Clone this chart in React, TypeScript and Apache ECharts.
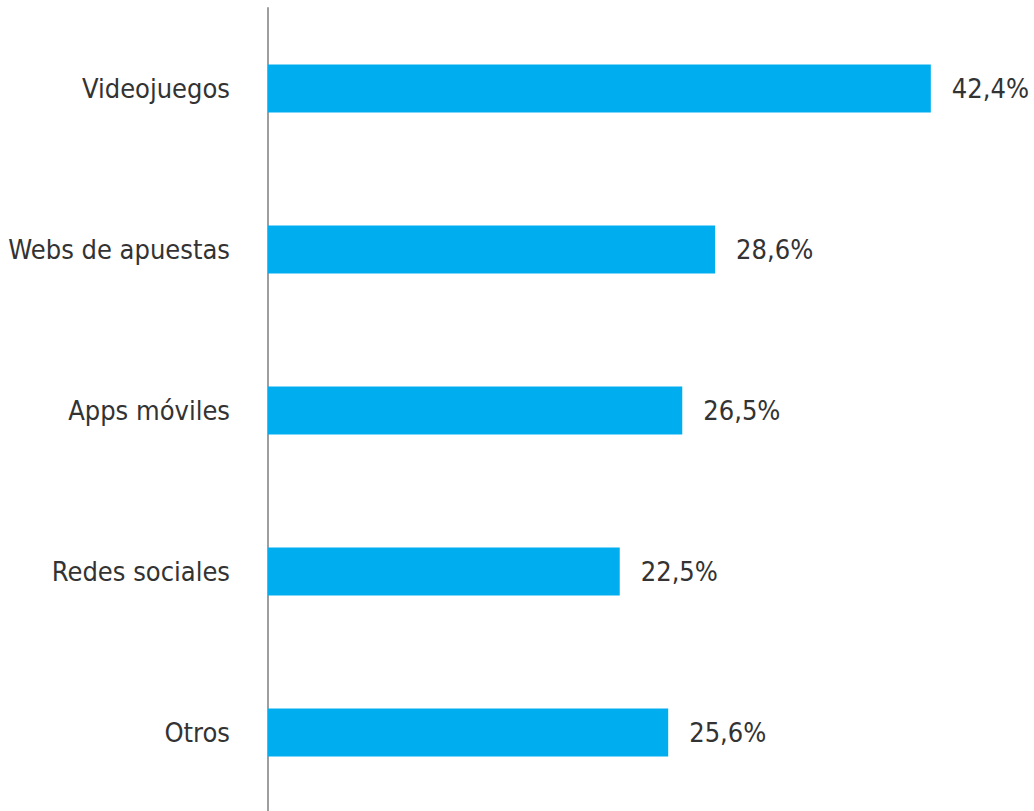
import React, { useEffect, useRef } from "react";
import * as echarts from "echarts";

const categories = ["Videojuegos", "Webs de apuestas", "Apps móviles", "Redes sociales", "Otros"];
const values = [42.4, 28.6, 26.5, 22.5, 25.6];

const FONT = "'DejaVu Sans Condensed', 'Liberation Sans Narrow', sans-serif";

export default function App() {
  const ref = useRef<HTMLDivElement>(null);
  useEffect(() => {
    document.body.style.margin = "0";
    const chart = echarts.init(ref.current!, null, { renderer: "svg" });
    chart.setOption({
      animation: false,
      backgroundColor: "#ffffff",
      grid: { left: 268, right: 0, top: 8, height: 805, containLabel: false, outerBoundsMode: "none" },
      xAxis: {
        type: "value",
        min: 0,
        max: 49,
        show: false,
      },
      yAxis: {
        type: "category",
        data: categories,
        inverse: true,
        axisLine: { show: true, lineStyle: { color: "#9e9e9e", width: 2 } },
        axisTick: { show: false },
        axisLabel: {
          margin: 38,
          fontFamily: FONT,
          fontSize: 27,
          color: "#333333",
        },
      },
      series: [
        {
          type: "bar",
          data: values,
          barWidth: 48,
          itemStyle: { color: "#00AEEF" },
          label: {
            show: true,
            position: "right",
            distance: 21,
            fontFamily: FONT,
            fontSize: 27,
            color: "#333333",
            formatter: (p: any) => p.value.toFixed(1).replace(".", ",") + "%",
          },
        },
      ],
    });
    return () => chart.dispose();
  }, []);
  return <div ref={ref} style={{ width: 1034, height: 811 }} />;
}
